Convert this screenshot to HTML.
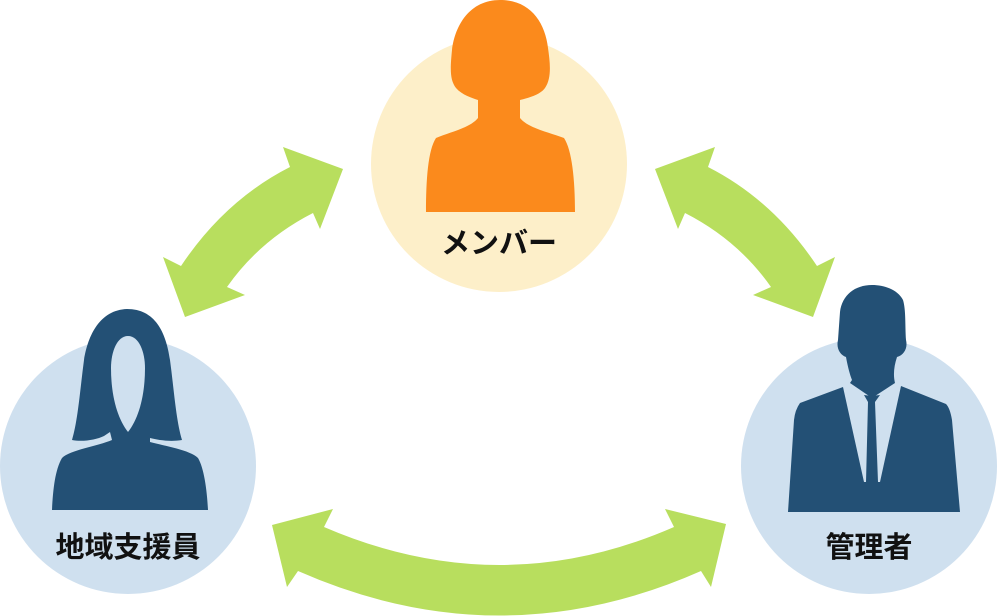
<!DOCTYPE html>
<html><head><meta charset="utf-8"><style>
html,body{margin:0;padding:0;background:#fff;}
svg{display:block}
text{font-family:"Liberation Sans","Noto Sans CJK JP",sans-serif;font-weight:bold;font-size:29px;fill:#111;text-anchor:middle}
</style></head><body>
<svg width="998" height="616" viewBox="0 0 998 616" xmlns="http://www.w3.org/2000/svg">
<circle cx="499" cy="164" r="128" fill="#fdefc9"/>
<circle cx="128" cy="466" r="128" fill="#cfe0ef"/>
<circle cx="869" cy="466" r="128" fill="#cfe0ef"/>
<g fill="#b8de5e">
<path d="M283,147 L290,167 Q225,200 181,266 L163,257 L185,317 L245,295 L227,287 Q260,240 313,213 L320,229 L343,169 Z"/>
<path transform="translate(998,0) scale(-1,1)" d="M283,147 L290,167 Q225,200 181,266 L163,257 L185,317 L245,295 L227,287 Q260,240 313,213 L320,229 L343,169 Z"/>
<path d="M272,525 L333,509 L324,527 Q500,603 674,527 L665,509 L726,524 L711,587 L701,571 Q500,660 298,571 L287,587 Z"/>
</g>
<g fill="#fb8a1c">
<path d="M500,0 C470,0 455,25 452,50 C450,70 450,80 456,88 C462,95 472,98 478,100 L478,118 C470,128 450,132 436,138 C428,150 426,180 426,212 L575,212 C575,180 572,150 564,138 C548,132 528,128 520,118 L520,100 C528,98 540,95 545,88 C552,78 550,62 548,48 C545,22 530,0 500,0 Z"/>
</g>
<g fill="#235075">
<path d="M127,309 C100,310 88,335 84,360 C80,390 78,420 72,440 C82,442 96,440 104,436 L110,432 L112,440 C98,446 70,450 62,458 C55,470 53,490 52,510 L208,510 C207,490 204,468 198,458 C190,450 165,446 150,442 L150,438 C158,440 170,442 182,440 C176,420 174,390 170,360 C166,332 155,309 127,309 Z"/>
<path d="M128,336 C117,336 111,352 111,368 C111,395 117,418 128,432 C139,418 145,395 145,368 C145,352 139,336 128,336 Z" fill="#cfe0ef"/>
</g>
<g>
<path d="M872,285 C855,285 842,295 840,312 L838,340 C836,348 840,355 846,357 C848,368 850,375 852,380 L850,383 L872,398 L895,383 C893,375 894,366 897,357 C904,355 908,348 906,340 C905,325 906,310 903,300 C898,290 885,285 872,285 Z" fill="#235075"/>
<path d="M843,387 L872,398 L901,386 L880,482 L864,482 Z" fill="#cfe0ef"/>
<path d="M843,387 L800,403 Q795,410 794,420 L788,512 L960,512 L952,420 Q950,408 946,404 L901,386 L880,482 L878,482 L875,402 L880,395 L872,396 L864,395 L868,402 L866,482 L864,482 Z" fill="#235075"/>
</g>
<text x="499" y="253">メンバー</text>
<text x="128" y="557">地域支援員</text>
<text x="869" y="557">管理者</text>
</svg>
</body></html>
